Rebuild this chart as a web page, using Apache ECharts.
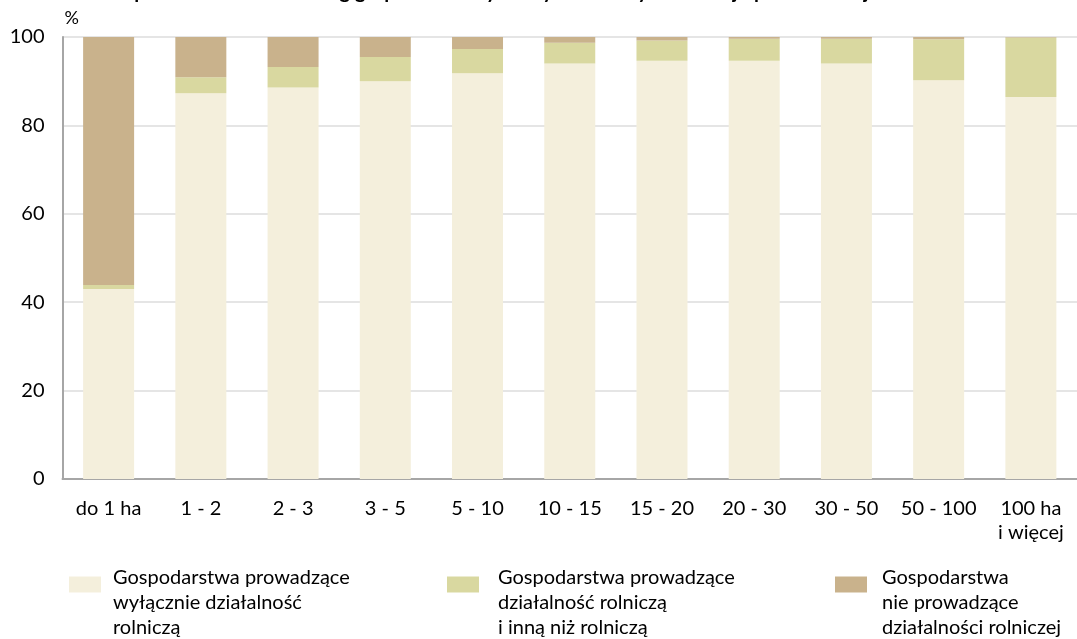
<!DOCTYPE html>
<html>
<head>
<meta charset="utf-8">
<style>
    html, body { margin: 0; padding: 0; background: #fff; }
    #main { width: 1077px; height: 639px; }
</style>
</head>
<body>
<div id="main"></div>
<script src="https://cdn.jsdelivr.net/npm/echarts@6/dist/echarts.min.js"></script>
<script type="text/javascript">
    // dane (%)
    var categories = ['do 1 ha', '1 - 2', '2 - 3', '3 - 5', '5 - 10', '10 - 15', '15 - 20', '20 - 30', '30 - 50', '50 - 100', '100 ha\ni więcej'];
    var onlyFarm = [43.0, 87.3, 88.6, 90.0, 91.8, 94.0, 94.6, 94.6, 94.0, 90.2, 86.4];
    var farmAndOther = [0.9, 3.6, 4.6, 5.5, 5.5, 4.7, 4.6, 5.0, 5.6, 9.3, 13.5];
    var noFarm = [56.1, 9.1, 6.8, 4.5, 2.7, 1.3, 0.8, 0.4, 0.4, 0.5, 0.1];
    var yTicks = [0, 20, 40, 60, 80, 100];

    var names = [
        'Gospodarstwa prowadzące\nwyłącznie działalność\nrolniczą',
        'Gospodarstwa prowadzące\ndziałalność rolniczą\ni inną niż rolniczą',
        'Gospodarstwa\nnie prowadzące\ndziałalności rolniczej'
    ];
    var colors = ['#F4EFDC', '#D9D8A0', '#C9B28C'];
    var font = 'Lato, "Open Sans", sans-serif';

    var myChart = echarts.init(document.getElementById('main'));

    // legenda: ikona na wysokości pierwszej linii, tekst przesunięty w dół
    function legendAt(name, left, padLeft) {
        return {
            data: [name],
            left: left,
            top: 542,
            padding: 0,
            itemWidth: 32,
            itemHeight: 16,
            icon: 'rect',
            selectedMode: false,
            formatter: function (n) {
                var lines = n.split('\n').map(function (l) { return '{t|' + l + '}'; });
                return '{s| }\n' + lines.join('\n');
            },
            textStyle: {
                fontFamily: font,
                fontSize: 20,
                color: '#000',
                rich: {
                    s: { fontSize: 10, lineHeight: 36, padding: [0, 0, 0, padLeft] },
                    t: { fontFamily: font, fontSize: 20, color: '#000', lineHeight: 25, padding: [0, 0, 0, padLeft] }
                }
            }
        };
    }

    var option = {
        animation: false,
        color: colors,
        title: {
            text: 'Gospodarstwa rolne według grup obszarowych użytków rolnych i rodzaju prowadzonej działalności',
            left: 'center',
            top: -23,
            textStyle: { fontFamily: font, fontSize: 20, fontWeight: 'bold', color: '#000' }
        },
        legend: [
            legendAt(names[0], 69, 7),
            legendAt(names[1], 447, 14),
            legendAt(names[2], 835, 10)
        ],
        grid: {
            left: 62.5,
            top: 37,
            width: 1021,
            height: 442,
            containLabel: false
        },
        xAxis: {
            type: 'category',
            data: categories,
            axisLine: { lineStyle: { color: '#A6A6A6', width: 2 } },
            axisTick: { show: false },
            axisLabel: {
                fontFamily: font,
                fontSize: 20,
                color: '#000',
                lineHeight: 24,
                margin: 18,
                interval: 0
            }
        },
        yAxis: {
            type: 'value',
            min: 0,
            max: 100,
            interval: 20,
            name: '%',
            nameLocation: 'end',
            nameGap: 10,
            nameTextStyle: { fontFamily: font, fontSize: 18, color: '#000', align: 'left', padding: [0, 0, 0, 2] },
            axisLine: { show: true, lineStyle: { color: '#A6A6A6', width: 2 } },
            axisTick: { show: false },
            splitLine: { lineStyle: { color: '#DCDCDC', width: 1.5 } },
            axisLabel: {
                fontFamily: font,
                fontSize: 20,
                color: '#000',
                margin: 18,
                formatter: function (v) { return yTicks.indexOf(v) >= 0 ? String(v) : ''; }
            }
        },
        series: [
            { name: names[0], type: 'bar', stack: 'all', barWidth: 51, data: onlyFarm },
            { name: names[1], type: 'bar', stack: 'all', barWidth: 51, data: farmAndOther },
            { name: names[2], type: 'bar', stack: 'all', barWidth: 51, data: noFarm }
        ]
    };

    myChart.setOption(option);
</script>
</body>
</html>
